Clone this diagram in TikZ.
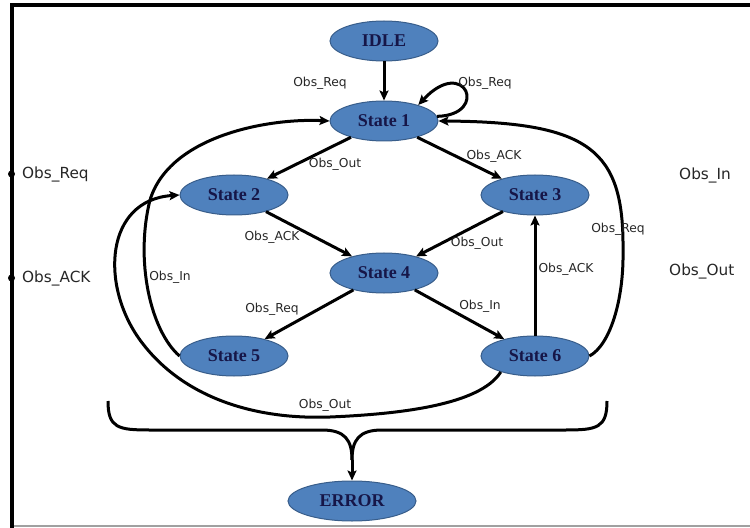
\documentclass[tikz,border=0pt]{standalone}
\usepackage{fontspec}
\setmainfont{Liberation Serif}
\newfontfamily\lblfont{DejaVu Sans}
\usetikzlibrary{shapes.geometric,arrows.meta}
\definecolor{stfill}{RGB}{79,129,189}
\definecolor{stdraw}{RGB}{56,93,138}
\definecolor{sttext}{RGB}{22,22,72}
\definecolor{framegray}{RGB}{160,160,160}
\tikzset{
  stnode/.style={ellipse, fill=stfill, draw=stdraw, line width=1bp,
    minimum width=108bp, minimum height=40bp, inner sep=0pt, text=sttext,
    font=\fontsize{18bp}{20bp}\selectfont\bfseries},
  trans/.style={line width=3bp, -{Stealth[length=10bp,width=9bp,inset=2bp]}},
  curvel/.style={line width=3bp},
  elab/.style={font=\lblfont\fontsize{12.3bp}{14bp}\selectfont, text=black!85, inner sep=0pt},
  sidelab/.style={font=\lblfont\fontsize{15.3bp}{18bp}\selectfont, text=black!85, inner sep=0pt, anchor=west},
  dotmark/.style={circle, fill=black, inner sep=0pt, minimum size=7bp}
}
\begin{document}
\begin{tikzpicture}[x=1bp,y=-1bp]
\useasboundingbox (0,0) rectangle (750,528);
% frame
\draw[framegray, line width=1.5bp] (10,526) -- (750,526);
\draw[line width=4bp, line join=miter] (750,5) -- (11.5,5) -- (11.5,528);
% side markers
\node[dotmark] (d1) at (11.5,174) {};
\node[dotmark] (d2) at (11.5,278) {};
\node[sidelab] (sreq) at (22,174) {Obs\_Req};
\node[sidelab] (sack) at (22,278) {Obs\_ACK};
\node[sidelab] (sin) at (679,175) {Obs\_In};
\node[sidelab] (sout) at (669,271) {Obs\_Out};
% states
\node[stnode] (idle) at (384,41) {IDLE};
\node[stnode] (s1) at (384,121) {State 1};
\node[stnode] (s2) at (234,195) {State 2};
\node[stnode] (s3) at (535,195) {State 3};
\node[stnode] (s4) at (384,273) {State 4};
\node[stnode] (s5) at (234,356) {State 5};
\node[stnode] (s6) at (535,356) {State 6};
\node[stnode, minimum width=128bp] (err) at (352,501) {ERROR};
% straight transitions
\draw[trans] (idle) -- (s1);
\draw[trans] (s1) -- (s2);
\draw[trans] (s1) -- (s3);
\draw[trans] (s2) -- (s4);
\draw[trans] (s3) -- (s4);
\draw[trans] (s4) -- (s5);
\draw[trans] (s4) -- (s6);
\draw[trans] (s6) -- (s3);
% self loop
\draw[trans] (s1.5) .. controls (490,115) and (465,55) .. (s1.25);
% curved transitions
\draw[trans] (s6.east) .. controls (610,345) and (624,300) .. (623,250)
  .. controls (624,150) and (590,122) .. (s1.east);
\draw[trans] (s5.west) .. controls (150,330) and (135,260) .. (150,200)
  .. controls (170,135) and (270,118) .. (s1.west);
\draw[trans] (s6.-155) .. controls (480,405) and (400,414) .. (330,417)
  .. controls (250,420) and (180,395) .. (140,340)
  .. controls (100,285) and (105,200) .. (s2.west);
% brace to error
\coordinate (bl) at (108,401);
\coordinate (br) at (607,401);
\coordinate (bj) at (352,460);
\draw[curvel] (bl) .. controls (108,428) and (118,430) .. (150,430) -- (322,430)
  .. controls (345,430) and (352,440) .. (bj);
\draw[curvel] (br) .. controls (607,428) and (597,430) .. (565,430) -- (382,430)
  .. controls (359,430) and (352,440) .. (bj);
\draw[trans] (bj) -- (err);
% edge labels
\node[elab] (l1) at (320,83) {Obs\_Req};
\node[elab] (l2) at (485,83) {Obs\_Req};
\node[elab] (l3) at (335,164) {Obs\_Out};
\node[elab] (l4) at (494,156) {Obs\_ACK};
\node[elab] (l5) at (272,237) {Obs\_ACK};
\node[elab] (l6) at (477,243) {Obs\_Out};
\node[elab] (l7) at (272,309) {Obs\_Req};
\node[elab] (l8) at (480,306) {Obs\_In};
\node[elab] (l9) at (566,269) {Obs\_ACK};
\node[elab] (l10) at (618,229) {Obs\_Req};
\node[elab] (l11) at (170,277) {Obs\_In};
\node[elab] (l12) at (325,405) {Obs\_Out};
\end{tikzpicture}
\end{document}
